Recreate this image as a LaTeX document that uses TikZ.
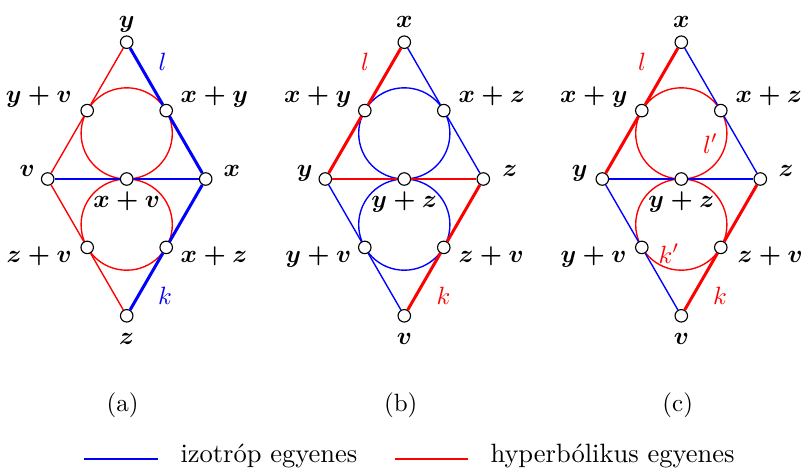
\documentclass[tikz,border=0pt]{standalone}
\usepackage{amsmath}
\tikzset{
  dot/.style={circle,draw=black,fill=white,line width=0.45pt,minimum size=5pt,inner sep=0pt},
  lab/.style={inner sep=0pt},
  legtext/.style={inner sep=0pt,font=\fontsize{10.6}{13}\selectfont},
  thinred/.style={red,line width=0.55pt},
  thinblue/.style={blue,line width=0.55pt},
  thickred/.style={red,line width=1.2pt},
  thickblue/.style={blue,line width=1.2pt},
  legline/.style={line width=0.8pt},
}
\newcommand{\bsy}[1]{$\boldsymbol{#1}$}
\begin{document}
\begin{tikzpicture}[x=0.4pt,y=-0.4pt]
\useasboundingbox (0,0) rectangle (801,468);

% ---------------- (a) ----------------
\begin{scope}[shift={(126.7,0)}]
  \coordinate (aCu) at (0,133.4);
  \coordinate (aCl) at (0,224.6);
  \draw[thinred] (aCu) circle[radius=45.6];
  \draw[thinred] (aCl) circle[radius=45.6];
  \node[dot] (aT)  at (0,42.2) {};
  \node[dot] (aB)  at (0,315.8) {};
  \node[dot] (aL)  at (-79,179) {};
  \node[dot] (aR)  at (79,179) {};
  \node[dot] (aC)  at (0,179) {};
  \node[dot] (aUL) at (-39.5,110.6) {};
  \node[dot] (aUR) at (39.5,110.6) {};
  \node[dot] (aLL) at (-39.5,247.4) {};
  \node[dot] (aLR) at (39.5,247.4) {};
  \draw[thinred] (aT) -- (aUL) -- (aL) -- (aLL) -- (aB);
  \draw[thickblue] (aT) -- (aUR) -- (aR) -- (aLR) -- (aB);
  \draw[thinblue] (aL) -- (aC) -- (aR);
  \node[lab,anchor=base] (aTt) at (0,27.3) {\bsy{y}};
  \node[lab,anchor=base,text=blue] (al) at (35.8,70) {$l$};
  \node[lab,anchor=base east] (aULt) at (-54.5,102) {\bsy{y+v}};
  \node[lab,anchor=base west] (aURt) at (53.5,102) {\bsy{x+y}};
  \node[lab,anchor=base east] (aLt) at (-91.5,176.5) {\bsy{v}};
  \node[lab,anchor=base west] (aRt) at (96.5,176.5) {\bsy{x}};
  \node[lab,anchor=base] (aCt) at (0,207) {\bsy{x+v}};
  \node[lab,anchor=base east] (aLLt) at (-54.5,262) {\bsy{z+v}};
  \node[lab,anchor=base west] (aLRt) at (53.5,262) {\bsy{x+z}};
  \node[lab,anchor=base,text=blue] (ak) at (38.3,304) {$k$};
  \node[lab,anchor=base] (aBt) at (0,344.5) {\bsy{z}};
  \node[lab,anchor=base] (capa) at (-4,411) {(a)};
\end{scope}

% ---------------- (b) ----------------
\begin{scope}[shift={(404.3,0)}]
  \coordinate (bCu) at (0,133.4);
  \coordinate (bCl) at (0,224.6);
  \draw[thinblue] (bCu) circle[radius=45.6];
  \draw[thinblue] (bCl) circle[radius=45.6];
  \node[dot] (bT)  at (0,42.2) {};
  \node[dot] (bB)  at (0,315.8) {};
  \node[dot] (bL)  at (-79,179) {};
  \node[dot] (bR)  at (79,179) {};
  \node[dot] (bC)  at (0,179) {};
  \node[dot] (bUL) at (-39.5,110.6) {};
  \node[dot] (bUR) at (39.5,110.6) {};
  \node[dot] (bLL) at (-39.5,247.4) {};
  \node[dot] (bLR) at (39.5,247.4) {};
  \draw[thickred] (bT) -- (bUL) -- (bL);
  \draw[thinblue] (bT) -- (bUR) -- (bR);
  \draw[thinblue] (bL) -- (bLL) -- (bB);
  \draw[thickred] (bR) -- (bLR) -- (bB);
  \draw[thinred] (bL) -- (bC) -- (bR);
  \node[lab,anchor=base] (bTt) at (0,27.3) {\bsy{x}};
  \node[lab,anchor=base,text=red] (bl) at (-39.3,70) {$l$};
  \node[lab,anchor=base east] (bULt) at (-52.5,102) {\bsy{x+y}};
  \node[lab,anchor=base west] (bURt) at (53.7,102) {\bsy{x+z}};
  \node[lab,anchor=base east] (bLt) at (-91.3,176.5) {\bsy{y}};
  \node[lab,anchor=base west] (bRt) at (97.5,176.5) {\bsy{z}};
  \node[lab,anchor=base] (bCt) at (0,207) {\bsy{y+z}};
  \node[lab,anchor=base east] (bLLt) at (-52.5,262) {\bsy{y+v}};
  \node[lab,anchor=base west] (bLRt) at (53.7,262) {\bsy{z+v}};
  \node[lab,anchor=base,text=red] (bk) at (39.2,304) {$k$};
  \node[lab,anchor=base] (bBt) at (0,344.5) {\bsy{v}};
  \node[lab,anchor=base] (capb) at (-3.6,411) {(b)};
\end{scope}

% ---------------- (c) ----------------
\begin{scope}[shift={(681.3,0)}]
  \coordinate (cCu) at (0,133.4);
  \coordinate (cCl) at (0,224.6);
  \draw[thinred] (cCu) circle[radius=45.6];
  \draw[thinred] (cCl) circle[radius=45.6];
  \node[dot] (cT)  at (0,42.2) {};
  \node[dot] (cB)  at (0,315.8) {};
  \node[dot] (cL)  at (-79,179) {};
  \node[dot] (cR)  at (79,179) {};
  \node[dot] (cC)  at (0,179) {};
  \node[dot] (cUL) at (-39.5,110.6) {};
  \node[dot] (cUR) at (39.5,110.6) {};
  \node[dot] (cLL) at (-39.5,247.4) {};
  \node[dot] (cLR) at (39.5,247.4) {};
  \draw[thickred] (cT) -- (cUL) -- (cL);
  \draw[thinblue] (cT) -- (cUR) -- (cR);
  \draw[thinblue] (cL) -- (cLL) -- (cB);
  \draw[thickred] (cR) -- (cLR) -- (cB);
  \draw[thinblue] (cL) -- (cC) -- (cR);
  \node[lab,anchor=base] (cTt) at (0,27.3) {\bsy{x}};
  \node[lab,anchor=base,text=red] (cl) at (-39.3,70) {$l$};
  \node[lab,anchor=base,text=red] (clp) at (29.2,153) {$l'$};
  \node[lab,anchor=base east] (cULt) at (-53.3,102) {\bsy{x+y}};
  \node[lab,anchor=base west] (cURt) at (53.7,102) {\bsy{x+z}};
  \node[lab,anchor=base east] (cLt) at (-93.3,176.5) {\bsy{y}};
  \node[lab,anchor=base west] (cRt) at (96.7,176.5) {\bsy{z}};
  \node[lab,anchor=base] (cCt) at (0,207) {\bsy{y+z}};
  \node[lab,anchor=base east] (cLLt) at (-54.3,262) {\bsy{y+v}};
  \node[lab,anchor=base,text=red] (ckp) at (-12.3,263) {$k'$};
  \node[lab,anchor=base west] (cLRt) at (55.7,262) {\bsy{z+v}};
  \node[lab,anchor=base,text=red] (ck) at (38.7,304) {$k$};
  \node[lab,anchor=base] (cBt) at (0,344.5) {\bsy{v}};
  \node[lab,anchor=base] (capc) at (-3.6,411) {(c)};
\end{scope}

% ---------------- legend ----------------
\coordinate (lb1) at (84,459);
\coordinate (lb2) at (158,459);
\draw[blue,legline] (lb1) -- (lb2);
\node[legtext,anchor=base west] (lbt) at (180,462) {izotróp egyenes};
\coordinate (lr1) at (395,459);
\coordinate (lr2) at (468,459);
\draw[red,legline] (lr1) -- (lr2);
\node[legtext,anchor=base west] (lrt) at (490,462) {hyperbólikus egyenes};
\end{tikzpicture}
\end{document}
